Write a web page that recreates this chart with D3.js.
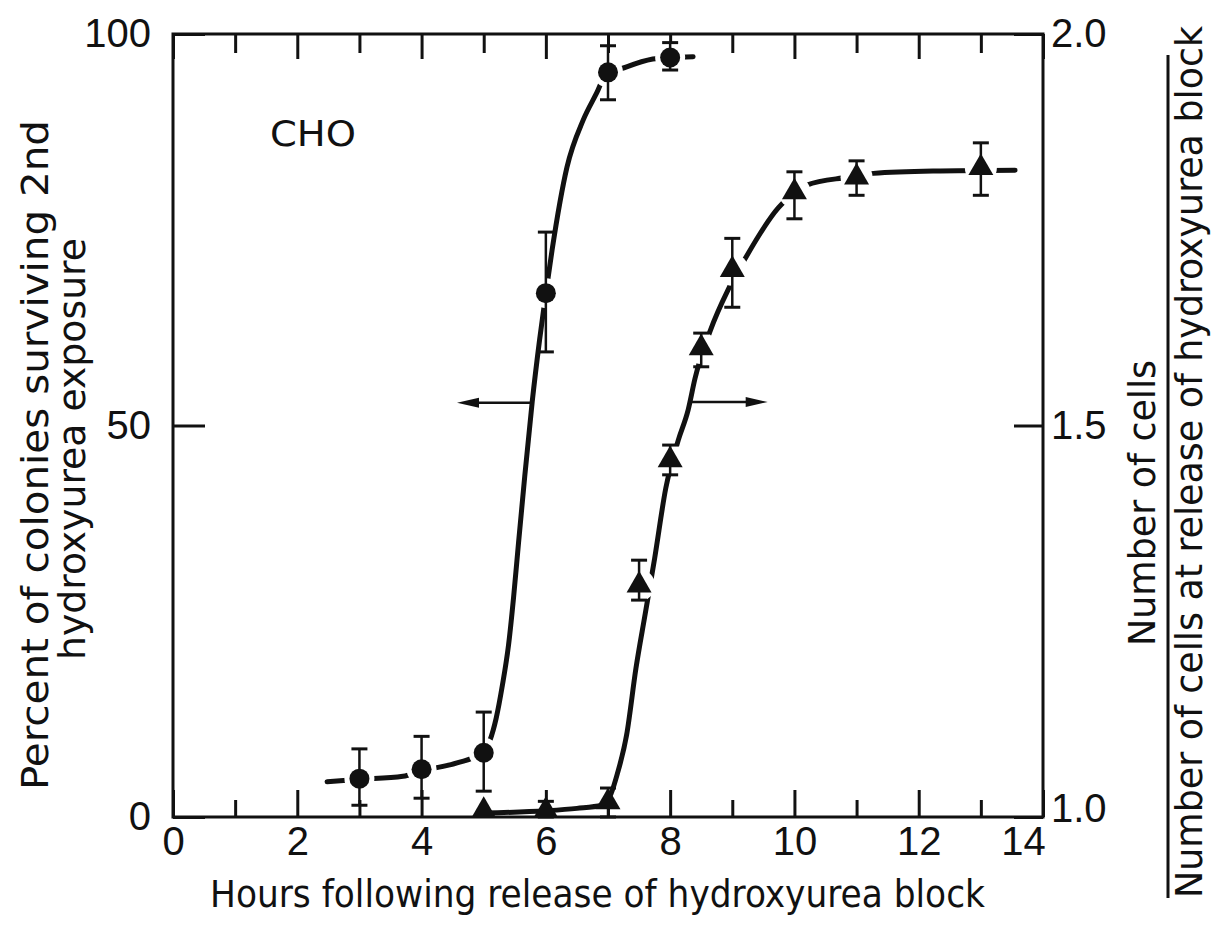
<!DOCTYPE html>
<html>
<head>
<meta charset="utf-8">
<script src="https://cdn.jsdelivr.net/npm/d3@7/dist/d3.min.js"></script>
<style>
  body { margin: 0; background: #fff; }
  text { font-family: "Liberation Sans Narrow", "DejaVu Sans Condensed", "Liberation Sans", sans-serif; fill: #111; }
</style>
</head>
<body>
<svg id="chart" width="1211" height="932"></svg>
<script>
"use strict"

// survival of colonies (left axis, %)
const circleHours = [3, 4, 5, 6, 7, 8]
const circlePct = [4.9, 6.1, 8.2, 66.9, 95.1, 97.0]
const circleLo = [1.5, 2.4, 3.3, 59.4, 91.6, 95.4]
const circleHi = [8.7, 10.3, 13.4, 74.7, 98.5, 98.9]

// cell number ratio (right axis)
const triHours = [5, 6, 7, 7.5, 8, 8.5, 9, 10, 11, 13]
const triRatio = [1.008, 1.008, 1.019, 1.296, 1.456, 1.599, 1.699, 1.798, 1.817, 1.829]
const triLo = [1.008, 1.0, 1.0, 1.277, 1.437, 1.575, 1.651, 1.764, 1.794, 1.794]
const triHi = [1.008, 1.02, 1.037, 1.328, 1.475, 1.618, 1.739, 1.824, 1.838, 1.861]

// hand drawn curves
const circleCurveHours = [2.48, 3.0, 3.7, 4.0, 4.57, 4.99, 5.1, 5.2, 5.3, 5.4, 5.48, 5.56, 5.66, 5.78, 5.9, 6.0, 6.1, 6.34, 6.6, 6.82, 6.95, 7.3, 7.72, 8.0, 8.37]
const circleCurvePct = [4.5, 4.8, 5.2, 5.9, 6.9, 8.3, 9.8, 12.6, 16.8, 22, 28, 35, 43.5, 53, 61, 66.9, 72.4, 83.0, 89, 92.5, 94.6, 95.8, 96.8, 97.0, 97.1]
const triCurveHours = [5.0, 6.0, 6.5, 6.9, 7.05, 7.15, 7.3, 7.45, 7.6, 7.75, 7.93, 8.13, 8.29, 8.4, 8.64, 8.93, 9.17, 9.74, 10.2, 10.85, 11.27, 12.23, 13.55]
const triCurveRatio = [1.005, 1.008, 1.011, 1.015, 1.03, 1.055, 1.105, 1.19, 1.26, 1.33, 1.42, 1.481, 1.52, 1.56, 1.62, 1.673, 1.708, 1.778, 1.807, 1.817, 1.822, 1.825, 1.826]

// arrows pointing to the axis each curve belongs to: [from, to] hours, at pct
const arrowFrom = [5.76, 8.32]
const arrowTo = [4.57, 9.57]
const arrowPct = [52.9, 53.0]

const xMajor = [0, 2, 4, 6, 8, 10, 12, 14]
const xMinor = [1, 3, 5, 7, 9, 11, 13]
const yLeftTicks = [0, 50, 100]
const yRightTicks = [1.0, 1.5, 2.0]

const xTitle = "Hours following release of hydroxyurea block"
const yLeftTitle = ["Percent of colonies surviving 2nd", "hydroxyurea exposure"]
const yRightNum = "Number of cells"
const yRightDen = "Number of cells at release of hydroxyurea block"
const panelLabel = "CHO"

const svg = d3.select("#chart")
const ink = "#111"

const x = d3.scaleLinear().domain([0, 14]).range([173, 1043])
const yL = d3.scaleLinear().domain([0, 100]).range([817, 34])
const yR = d3.scaleLinear().domain([1, 2]).range([817, 34])

const styleAxis = g => {
    g.select(".domain").remove()
    g.selectAll(".tick line").attr("stroke", ink).attr("stroke-width", 3)
    g.selectAll(".tick text").style("font-family", "'Liberation Sans', sans-serif").attr("fill", ink)
}

// frame
svg.append("rect")
    .attr("x", x(0)).attr("y", yL(100))
    .attr("width", x(14) - x(0)).attr("height", yL(0) - yL(100))
    .attr("fill", "none").attr("stroke", ink).attr("stroke-width", 3)

const bottomAxis = svg.append("g")
    .attr("transform", "translate(0," + yL(0) + ")")
    .call(d3.axisBottom(x).tickValues(xMajor).tickSize(-27).tickPadding(10).tickFormat(d3.format("d")))
    .call(styleAxis)
bottomAxis.selectAll("text").style("font-size", "40px")
// last label sits left of the corner, as in the original
bottomAxis.selectAll("text").filter(d => d === 14).attr("dx", -20)

svg.append("g")
    .attr("transform", "translate(0," + yL(0) + ")")
    .call(d3.axisBottom(x).tickValues(xMinor).tickSize(-17).tickFormat(""))
    .call(styleAxis)

svg.append("g")
    .attr("transform", "translate(0," + yL(100) + ")")
    .call(d3.axisTop(x).tickValues(xMajor).tickSize(-25).tickFormat(""))
    .call(styleAxis)

svg.append("g")
    .attr("transform", "translate(0," + yL(100) + ")")
    .call(d3.axisTop(x).tickValues(xMinor).tickSize(-19).tickFormat(""))
    .call(styleAxis)

svg.append("g")
    .attr("transform", "translate(" + x(0) + ",0)")
    .call(d3.axisLeft(yL).tickValues(yLeftTicks).tickSize(-32).tickPadding(22))
    .call(styleAxis)
    .selectAll("text").style("font-size", "40px")

const rightAxis = svg.append("g")
    .attr("transform", "translate(" + x(14) + ",0)")
    .call(d3.axisRight(yR).tickValues(yRightTicks).tickSize(-29).tickPadding(8).tickFormat(d3.format(".1f")))
    .call(styleAxis)
rightAxis.selectAll("text").style("font-size", "40px")
rightAxis.selectAll("text").filter(d => d === 1).attr("dy", "0.1em")

// curves
const circleLine = d3.line()
    .x((d, i) => x(circleCurveHours[i]))
    .y(d => yL(d))
    .curve(d3.curveMonotoneX)

const triLine = d3.line()
    .x((d, i) => x(triCurveHours[i]))
    .y(d => yR(d))
    .curve(d3.curveMonotoneX)

svg.append("path")
    .attr("d", circleLine(circleCurvePct))
    .attr("fill", "none").attr("stroke", ink).attr("stroke-width", 5).attr("stroke-linecap", "round")

svg.append("path")
    .attr("d", triLine(triCurveRatio))
    .attr("fill", "none").attr("stroke", ink).attr("stroke-width", 5).attr("stroke-linecap", "round")

// arrows
arrowFrom.forEach((from, i) => {
    const y0 = yL(arrowPct[i])
    const x0 = x(from), x1 = x(arrowTo[i])
    const dir = x1 > x0 ? 1 : -1
    svg.append("line")
        .attr("x1", x0).attr("y1", y0).attr("x2", x1 - dir * 14).attr("y2", y0)
        .attr("stroke", ink).attr("stroke-width", 2.5)
    svg.append("path")
        .attr("d", "M" + x1 + "," + y0 + "L" + (x1 - dir * 22) + "," + (y0 - 5) +
            "L" + (x1 - dir * 22) + "," + (y0 + 5) + "Z")
        .attr("fill", ink)
})

// white gaps where the pen lifted near markers
svg.selectAll(".halo-c")
    .data(circleHours)
    .enter().append("circle")
    .attr("class", "halo-c")
    .attr("cx", d => x(d))
    .attr("cy", (d, i) => yL(circlePct[i]))
    .attr("r", 15)
    .attr("fill", "#fff")

svg.selectAll(".halo-t")
    .data(triHours.slice(3))
    .enter().append("circle")
    .attr("class", "halo-t")
    .attr("cx", d => x(d))
    .attr("cy", (d, i) => yR(triRatio[i + 3]))
    .attr("r", 16)
    .attr("fill", "#fff")

// error bars
const errorBar = (g, xs, lo, hi, yScale) => {
    xs.forEach((h, i) => {
        if (hi[i] - lo[i] < 0.001) return
        const cx = x(h)
        g.append("line")
            .attr("x1", cx).attr("x2", cx)
            .attr("y1", yScale(lo[i])).attr("y2", yScale(hi[i]))
            .attr("stroke", ink).attr("stroke-width", 2.5)
        ;[lo[i], hi[i]].forEach(v => {
            g.append("line")
                .attr("x1", cx - 8).attr("x2", cx + 8)
                .attr("y1", yScale(v)).attr("y2", yScale(v))
                .attr("stroke", ink).attr("stroke-width", 3)
        })
    })
}

const bars = svg.append("g")
errorBar(bars, circleHours, circleLo, circleHi, yL)
errorBar(bars, triHours, triLo, triHi, yR)

// markers
svg.selectAll(".dot")
    .data(circleHours)
    .enter().append("circle")
    .attr("class", "dot")
    .attr("cx", d => x(d))
    .attr("cy", (d, i) => yL(circlePct[i]))
    .attr("r", 10)
    .attr("fill", ink)

svg.selectAll(".tri")
    .data(triHours)
    .enter().append("path")
    .attr("class", "tri")
    .attr("d", d3.symbol(d3.symbolTriangle, 270))
    .attr("transform", (d, i) => "translate(" + x(d) + "," + yR(triRatio[i]) + ")")
    .attr("fill", ink)

// texts
svg.append("text")
    .attr("x", 270).attr("y", 146)
    .attr("textLength", 86).attr("lengthAdjust", "spacingAndGlyphs")
    .style("font-size", "36px")
    .text(panelLabel)

svg.append("text")
    .attr("x", 210).attr("y", 907)
    .attr("textLength", 775).attr("lengthAdjust", "spacingAndGlyphs")
    .style("font-size", "37px")
    .text(xTitle)

const leftLen = [670, 422]
const leftBase = [48, 85]
const leftStart = [790, 660]
yLeftTitle.forEach((t, i) => {
    svg.append("text")
        .attr("transform", "translate(" + leftBase[i] + "," + leftStart[i] + ") rotate(-90)")
        .attr("textLength", leftLen[i]).attr("lengthAdjust", "spacingAndGlyphs")
        .style("font-size", "38px")
        .text(t)
})

svg.append("text")
    .attr("transform", "translate(1155,646) rotate(-90)")
    .attr("textLength", 286).attr("lengthAdjust", "spacingAndGlyphs")
    .style("font-size", "38px")
    .text(yRightNum)

svg.append("line")
    .attr("x1", 1168).attr("x2", 1168).attr("y1", 55).attr("y2", 898)
    .attr("stroke", ink).attr("stroke-width", 3)

svg.append("text")
    .attr("transform", "translate(1202,898) rotate(-90)")
    .attr("textLength", 872).attr("lengthAdjust", "spacingAndGlyphs")
    .style("font-size", "38px")
    .text(yRightDen)
</script>
</body>
</html>
